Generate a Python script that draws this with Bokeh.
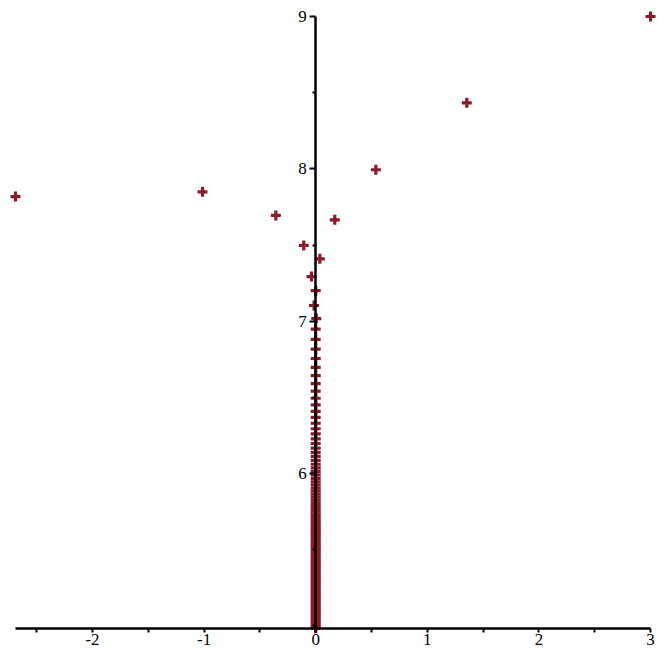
from bokeh.plotting import figure
from bokeh.models import LinearAxis, FixedTicker, ColumnDataSource
from bokeh.embed import file_html
from bokeh.resources import INLINE

# Outer points of the orbit, alternating right / left of the y axis
outer_x = [3.0, -2.690, 1.354, -1.014, 0.539, -0.357, 0.171, -0.107, 0.037, -0.038]
outer_y = [9.0, 7.818, 8.433, 7.849, 7.994, 7.694, 7.665, 7.497, 7.409, 7.293]

# Points collapsing onto the y axis, descending toward the bottom
column_y = [7.200, 7.103, 7.017, 6.948, 6.880, 6.816, 6.755, 6.697, 6.642, 6.590,
            6.541, 6.494, 6.450, 6.408, 6.368, 6.330, 6.294, 6.260, 6.228, 6.197,
            6.167, 6.139, 6.112, 6.086, 6.061, 6.037, 6.014, 5.991, 5.968, 5.946,
            5.925, 5.904, 5.884, 5.864, 5.845, 5.826, 5.807, 5.789, 5.771, 5.753,
            5.736, 5.719, 5.702, 5.687, 5.672, 5.657, 5.642, 5.627, 5.612, 5.597,
            5.582, 5.567, 5.552, 5.537, 5.522, 5.507, 5.492, 5.477, 5.462, 5.447,
            5.432, 5.417, 5.402, 5.387, 5.372, 5.357, 5.342, 5.327, 5.312, 5.297,
            5.282, 5.267, 5.252, 5.237, 5.222, 5.207, 5.192, 5.177, 5.162, 5.147,
            5.132, 5.117, 5.102, 5.087, 5.072, 5.057, 5.042, 5.027, 5.012, 4.997,
            4.985]
column_x = [0.0, -0.015, 0.005] + [0.0] * (len(column_y) - 3)

x_ticks = [-2, -1, 0, 1, 2, 3]
x_minor = [-2.5, -1.5, -0.5, 0.5, 1.5, 2.5]
y_ticks = [6, 7, 8, 9]
y_minor = [5.0, 5.5, 6.5, 7.5, 8.5]

x_min, x_max = -2.69, 3.0
y_min, y_max = 4.982, 9.0

src = ColumnDataSource(dict(x=outer_x + column_x, y=outer_y + column_y))

p = figure(width=665, height=654, x_range=(-2.824, 3.134), y_range=(4.812, 9.105),
           output_backend="svg", toolbar_location=None,
           x_axis_type=None, y_axis_type=None, min_border=0)
p.title.visible = False
p.outline_line_color = None
p.background_fill_color = "white"

p.scatter("x", "y", source=src, marker="cross", size=10, line_width=3.2,
          line_color="#8b1a2b")

font = "Liberation Serif"

xaxis = LinearAxis(
    fixed_location=y_min, bounds=(x_min, x_max),
    ticker=FixedTicker(ticks=x_ticks, minor_ticks=x_minor),
    axis_line_width=2.5, axis_line_color="black",
    major_tick_in=0, major_tick_out=4, major_tick_line_width=2,
    minor_tick_in=0, minor_tick_out=4, minor_tick_line_width=2,
    major_label_text_font=font, major_label_text_font_size="17px",
    major_label_text_color="black",
    major_label_standoff=1,
    major_label_overrides={t: str(t) for t in x_ticks},
)
yaxis = LinearAxis(
    fixed_location=0, bounds=(y_min, y_max),
    ticker=FixedTicker(ticks=y_ticks, minor_ticks=y_minor),
    axis_line_width=2.5, axis_line_color="black",
    major_tick_in=0, major_tick_out=6, major_tick_line_width=2,
    minor_tick_in=0, minor_tick_out=3, minor_tick_line_width=2,
    major_label_text_font=font, major_label_text_font_size="17px",
    major_label_text_color="black",
    major_label_standoff=3,
    major_label_overrides={t: str(t) for t in y_ticks},
)
p.add_layout(xaxis, "below")
p.add_layout(yaxis, "left")

open("out.html", "w").write(file_html(p, INLINE))
